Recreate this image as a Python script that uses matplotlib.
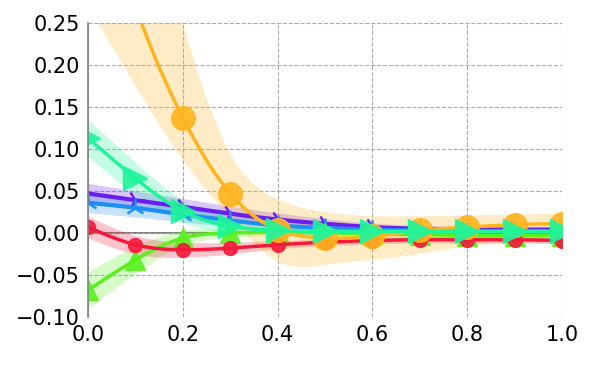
import numpy as np
import matplotlib
matplotlib.use("Agg")
import matplotlib.pyplot as plt

x = [0.0, 0.1, 0.2, 0.3, 0.4, 0.5, 0.6, 0.7, 0.8, 0.9, 1.0]

purple_mean = [0.047, 0.039, 0.031, 0.023, 0.016, 0.011, 0.007, 0.005, 0.004, 0.004, 0.004]
purple_std = [0.012, 0.011, 0.010, 0.009, 0.008, 0.006, 0.005, 0.004, 0.004, 0.004, 0.004]
blue_mean = [0.036, 0.030, 0.022, 0.015, 0.009, 0.006, 0.004, 0.003, 0.002, 0.002, 0.002]
blue_std = [0.012, 0.011, 0.009, 0.007, 0.005, 0.004, 0.004, 0.003, 0.003, 0.003, 0.003]
lgreen_mean = [-0.068, -0.032, -0.006, 0.000, 0.001, 0.000, -0.001, -0.002, -0.003, -0.003, -0.003]
lgreen_std = [0.022, 0.016, 0.009, 0.005, 0.004, 0.003, 0.003, 0.003, 0.003, 0.003, 0.003]
red_mean = [0.007, -0.014, -0.020, -0.018, -0.014, -0.011, -0.009, -0.008, -0.008, -0.008, -0.009]
red_std = [0.013, 0.011, 0.009, 0.007, 0.005, 0.004, 0.004, 0.004, 0.004, 0.004, 0.004]
orange_mean = [0.45, 0.27, 0.137, 0.047, 0.004, -0.006, -0.004, 0.003, 0.007, 0.010, 0.011]
orange_low = [0.27, 0.175, 0.087, 0.018, -0.034, -0.038, -0.032, -0.025, -0.016, -0.012, -0.010]
orange_high = [0.90, 0.50, 0.25, 0.095, 0.040, 0.025, 0.020, 0.020, 0.021, 0.022, 0.023]
sgreen_mean = [0.113, 0.065, 0.026, 0.008, 0.003, 0.002, 0.002, 0.002, 0.002, 0.002, 0.002]
sgreen_std = [0.022, 0.019, 0.013, 0.007, 0.004, 0.003, 0.003, 0.003, 0.003, 0.003, 0.003]

x_ticks = [0.0, 0.2, 0.4, 0.6, 0.8, 1.0]
y_ticks = [-0.10, -0.05, 0.00, 0.05, 0.10, 0.15, 0.20, 0.25]


def spline(xs, ys, xf):
    xs = np.asarray(xs, float); ys = np.asarray(ys, float)
    n = len(xs)
    h = np.diff(xs)
    A = np.zeros((n, n)); b = np.zeros(n)
    A[0, 0] = 1; A[-1, -1] = 1
    for i in range(1, n - 1):
        A[i, i - 1] = h[i - 1]; A[i, i] = 2 * (h[i - 1] + h[i]); A[i, i + 1] = h[i]
        b[i] = 3 * ((ys[i + 1] - ys[i]) / h[i] - (ys[i] - ys[i - 1]) / h[i - 1])
    c = np.linalg.solve(A, b)
    out = np.empty_like(xf)
    for k, xv in enumerate(xf):
        i = min(max(np.searchsorted(xs, xv) - 1, 0), n - 2)
        dx = xv - xs[i]
        bb = (ys[i + 1] - ys[i]) / h[i] - h[i] * (2 * c[i] + c[i + 1]) / 3
        d = (c[i + 1] - c[i]) / (3 * h[i])
        out[k] = ys[i] + bb * dx + c[i] * dx ** 2 + d * dx ** 3
    return out


fig = plt.figure(figsize=(6, 3.75), dpi=100)
ax = fig.add_axes([0.1467, 0.1547, 0.79, 0.784])

series = [
    (purple_mean, np.subtract(purple_mean, purple_std), np.add(purple_mean, purple_std), "#6b1cf2", "4", 14, 3.0),
    (blue_mean, np.subtract(blue_mean, blue_std), np.add(blue_mean, blue_std), "#1e8ff5", "2", 14, 3.0),
    (lgreen_mean, np.subtract(lgreen_mean, lgreen_std), np.add(lgreen_mean, lgreen_std), "#5af01e", "^", 15, 2.5),
    (red_mean, np.subtract(red_mean, red_std), np.add(red_mean, red_std), "#f51a3c", "o", 10, 2.5),
    (orange_mean, orange_low, orange_high, "#ffb41e", "o", 17, 2.5),
    (sgreen_mean, np.subtract(sgreen_mean, sgreen_std), np.add(sgreen_mean, sgreen_std), "#1ef59a", ">", 17, 2.5),
]

xf = np.linspace(0, 1, 300)
for mean, lo, hi, col, mk, ms, lw in series:
    m = spline(x, mean, xf)
    ax.fill_between(xf, spline(x, lo, xf), spline(x, hi, xf), color=col, alpha=0.25, lw=0)
    ax.plot(xf, m, color=col, lw=lw)
    if mk in ("4", "2"):
        ax.plot(x, mean, ls="none", marker=mk, ms=ms, mew=1.8, color=col)
    else:
        ax.plot(x, mean, ls="none", marker=mk, ms=ms, color=col, alpha=0.9, mec=col)

ax.axhline(0, color="gray", lw=1.5, zorder=0.5)
ax.set_xlim(0, 1)
ax.set_ylim(-0.10, 0.25)
ax.set_xticks(x_ticks)
ax.set_yticks(y_ticks)
ax.set_xticklabels([f"{v:.1f}" for v in x_ticks])
ax.set_yticklabels([f"{v:.2f}".replace("-", "\u2212") for v in y_ticks])
ax.tick_params(length=0, labelsize=15, pad=6)
ax.grid(True, ls="--", color="#aaaaaa", lw=0.8)
ax.set_axisbelow(True)
for sp in ["top", "right", "bottom"]:
    ax.spines[sp].set_visible(False)
ax.spines["left"].set_color("gray")
ax.spines["left"].set_linewidth(1.2)

fig.savefig("out.png", dpi=100)
